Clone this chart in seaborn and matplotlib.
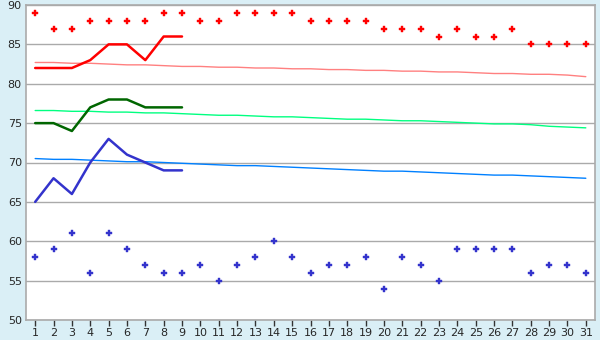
import matplotlib
matplotlib.use("Agg")
import matplotlib.pyplot as plt
import seaborn as sns
import numpy as np

days = list(range(1, 32))
red_points = [89, 87, 87, 88, 88, 88, 88, 89, 89, 88, 88, 89, 89, 89, 89, 88,
              88, 88, 88, 87, 87, 87, 86, 87, 86, 86, 87, 85, 85, 85, 85]
blue_points = [58, 59, 61, 56, 61, 59, 57, 56, 56, 57, 55, 57, 58, 60, 58, 56,
               57, 57, 58, 54, 58, 57, 55, 59, 59, 59, 59, 56, 57, 57, 56]
days_short = list(range(1, 10))
red_line = [82, 82, 82, 83, 85, 85, 83, 86, 86]
green_line = [75, 75, 74, 77, 78, 78, 77, 77, 77]
blue_line = [65, 68, 66, 70, 73, 71, 70, 69, 69]
pink_norm = [82.7, 82.7, 82.6, 82.6, 82.5, 82.4, 82.4, 82.3, 82.2, 82.2, 82.1,
             82.1, 82.0, 82.0, 81.9, 81.9, 81.8, 81.8, 81.7, 81.7, 81.6, 81.6,
             81.5, 81.5, 81.4, 81.3, 81.3, 81.2, 81.2, 81.1, 80.9]
green_norm = [76.6, 76.6, 76.5, 76.5, 76.4, 76.4, 76.3, 76.3, 76.2, 76.1, 76.0,
              76.0, 75.9, 75.8, 75.8, 75.7, 75.6, 75.5, 75.5, 75.4, 75.3, 75.3,
              75.2, 75.1, 75.0, 74.9, 74.9, 74.8, 74.6, 74.5, 74.4]
blue_norm = [70.5, 70.4, 70.4, 70.3, 70.2, 70.1, 70.1, 70.0, 69.9, 69.8, 69.7,
             69.6, 69.6, 69.5, 69.4, 69.3, 69.2, 69.1, 69.0, 68.9, 68.9, 68.8,
             68.7, 68.6, 68.5, 68.4, 68.4, 68.3, 68.2, 68.1, 68.0]
y_ticks = [50, 55, 60, 65, 70, 75, 80, 85, 90]

sns.set_style("white")
plt.rcParams['font.family'] = ['DejaVu Sans']

bg = "#daeff6"
grid_c = "#aaaaaa"
fig = plt.figure(figsize=(6, 3.4), dpi=100, facecolor=bg)
ax = fig.add_axes([26/600, 20/340, 569/600, 315/340])
ax.set_facecolor("white")

sns.lineplot(x=days, y=pink_norm, color="#ff8080", lw=1.0, ax=ax)
sns.lineplot(x=days, y=green_norm, color="#00ff80", lw=1.0, ax=ax)
sns.lineplot(x=days, y=blue_norm, color="#0080ff", lw=1.0, ax=ax)
sns.lineplot(x=days_short, y=red_line, color="#ff0000", lw=1.8, ax=ax)
sns.lineplot(x=days_short, y=green_line, color="#006600", lw=1.8, ax=ax)
sns.lineplot(x=days_short, y=blue_line, color="#3333cc", lw=1.8, ax=ax)
sns.scatterplot(x=days, y=red_points, color="#ff0000", marker="P", s=18,
                linewidth=0.3, edgecolor="#ff0000", ax=ax, zorder=5)
sns.scatterplot(x=days, y=blue_points, color="#3333cc", marker="P", s=18,
                linewidth=0.3, edgecolor="#3333cc", ax=ax, zorder=5)

ax.set_xlim(0.5, 31.5)
ax.set_ylim(50, 90)
ax.set_yticks(y_ticks)
ax.set_xticks(days)
ax.set_xticklabels([str(d) for d in days])
ax.yaxis.grid(True, color=grid_c, lw=1.0)
ax.set_axisbelow(True)
for s in ax.spines.values():
    s.set_color(grid_c)
    s.set_linewidth(1.2)
ax.tick_params(axis="x", length=4, width=1, color="#333333", labelsize=8,
               pad=2, direction="out")
ax.tick_params(axis="y", length=0, labelsize=8, pad=3)
ax.xaxis.set_ticks_position("bottom")
ax.set_xlabel("")
ax.set_ylabel("")
fig.savefig("out.png", dpi=100, facecolor=bg)
